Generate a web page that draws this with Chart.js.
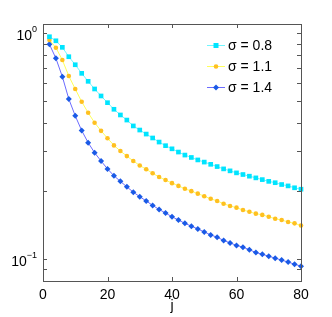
<!DOCTYPE html>
<html>
<head>
<meta charset="utf-8">
<script src="https://cdn.jsdelivr.net/npm/chart.js@4/dist/chart.umd.min.js"></script>
<style>
  html, body { margin: 0; padding: 0; background: #fff; }
  #wrap { width: 332px; height: 317px; }
</style>
</head>
<body>
<div id="wrap"><canvas id="chart" width="332" height="317"></canvas></div>
<script>
// j values (every 2nd step)
const jValues = [2, 4, 6, 8, 10, 12, 14, 16, 18, 20, 22, 24, 26, 28, 30, 32, 34, 36, 38, 40,
    42, 44, 46, 48, 50, 52, 54, 56, 58, 60, 62, 64, 66, 68, 70, 72, 74, 76, 78, 80];

const sigma08 = [0.966, 0.927, 0.867, 0.788, 0.726, 0.665, 0.613, 0.567, 0.528, 0.493,
    0.461, 0.435, 0.413, 0.389, 0.373, 0.358, 0.344, 0.330, 0.318, 0.308,
    0.298, 0.289, 0.282, 0.275, 0.269, 0.263, 0.257, 0.251, 0.246, 0.241,
    0.237, 0.233, 0.229, 0.225, 0.221, 0.218, 0.214, 0.211, 0.207, 0.204];
const sigma11 = [0.934, 0.864, 0.762, 0.647, 0.567, 0.498, 0.445, 0.402, 0.370, 0.343,
    0.319, 0.301, 0.286, 0.272, 0.260, 0.250, 0.240, 0.231, 0.224, 0.217,
    0.211, 0.205, 0.200, 0.195, 0.190, 0.185, 0.181, 0.176, 0.172, 0.169,
    0.165, 0.162, 0.159, 0.157, 0.154, 0.151, 0.149, 0.146, 0.144, 0.141];
const sigma14 = [0.894, 0.775, 0.643, 0.512, 0.431, 0.371, 0.328, 0.296, 0.272, 0.251,
    0.234, 0.221, 0.209, 0.198, 0.189, 0.181, 0.173, 0.166, 0.160, 0.154,
    0.149, 0.144, 0.140, 0.136, 0.132, 0.128, 0.125, 0.121, 0.118, 0.115,
    0.113, 0.110, 0.107, 0.105, 0.103, 0.101, 0.099, 0.097, 0.095, 0.093];

const seriesLabels = ['\u03c3 = 0.8', '\u03c3 = 1.1', '\u03c3 = 1.4'];
const xTicks = [0, 20, 40, 60, 80];
const yMajorTicks = [0.1, 1];
const yMinorTicks = [0.09, 0.2, 0.3, 0.4, 0.5, 0.6, 0.7, 0.8, 0.9];

const FONT = '"Liberation Sans", Arial, sans-serif';

function toPoints(vals) {
    return vals.map((v, i) => ({ x: jValues[i], y: v }));
}

// frame, inward ticks, 10^n labels and the legend inside the axes
const matlabAxes = {
    id: 'matlabAxes',
    afterDraw(chart) {
        const ctx = chart.ctx;
        const a = chart.chartArea;
        const xs = chart.scales.x, ys = chart.scales.y;
        ctx.save();
        ctx.strokeStyle = '#555';
        ctx.lineWidth = 1;
        ctx.strokeRect(Math.round(a.left) + 0.5, Math.round(a.top) + 0.5,
            Math.round(a.right - a.left), Math.round(a.bottom - a.top));

        ctx.beginPath();
        xTicks.forEach(t => {
            const px = Math.round(xs.getPixelForValue(t)) + 0.5;
            ctx.moveTo(px, a.bottom); ctx.lineTo(px, a.bottom - 4);
            ctx.moveTo(px, a.top); ctx.lineTo(px, a.top + 4);
        });
        yMajorTicks.concat(yMinorTicks).forEach(t => {
            const py = Math.round(ys.getPixelForValue(t)) + 0.5;
            ctx.moveTo(a.left, py); ctx.lineTo(a.left + 4, py);
            ctx.moveTo(a.right, py); ctx.lineTo(a.right - 4, py);
        });
        ctx.stroke();

        // y labels as 10^n
        ctx.fillStyle = '#000';
        yMajorTicks.forEach(t => {
            const py = ys.getPixelForValue(t);
            const exp = String(Math.round(Math.log10(t))).replace('-', '\u2212');
            ctx.font = '9px ' + FONT;
            const ew = ctx.measureText(exp).width;
            const right = a.left - 6;
            ctx.textBaseline = 'alphabetic';
            ctx.textAlign = 'right';
            ctx.fillText(exp, right, py - 1);
            ctx.font = '14px ' + FONT;
            ctx.fillText('10', right - ew, py + 7);
        });

        // legend
        const lx = 207, ly = 45, step = 21;
        chart.data.datasets.forEach((ds, i) => {
            const y = ly + i * step;
            ctx.strokeStyle = ds.borderColor;
            ctx.lineWidth = 1;
            ctx.beginPath();
            ctx.moveTo(lx, y + 0.5); ctx.lineTo(lx + 18, y + 0.5);
            ctx.stroke();
            ctx.fillStyle = ds.pointBackgroundColor;
            ctx.beginPath();
            if (ds.pointStyle === 'rect') {
                ctx.rect(lx + 9 - 2.5, y - 2, 5, 5);
            } else if (ds.pointStyle === 'rectRot') {
                ctx.moveTo(lx + 9, y - 2.5); ctx.lineTo(lx + 12, y + 0.5);
                ctx.lineTo(lx + 9, y + 3.5); ctx.lineTo(lx + 6, y + 0.5);
                ctx.closePath();
            } else {
                ctx.arc(lx + 9, y + 0.5, 2.3, 0, Math.PI * 2);
            }
            ctx.fill();
            ctx.fillStyle = '#000';
            ctx.font = '14px ' + FONT;
            ctx.textAlign = 'left';
            ctx.textBaseline = 'middle';
            ctx.fillText(ds.label, lx + 21, y + 1);
        });
        ctx.restore();
    }
};

const ctx = document.getElementById('chart').getContext('2d');
new Chart(ctx, {
    type: 'line',
    data: {
        datasets: [{
            label: seriesLabels[0],
            data: toPoints(sigma08),
            borderColor: '#6ff6ff',
            borderWidth: 1,
            pointStyle: 'rect',
            pointRadius: 3.3,
            pointBackgroundColor: '#00e4ff',
            pointBorderWidth: 0,
            clip: 6
        }, {
            label: seriesLabels[1],
            data: toPoints(sigma11),
            borderColor: '#ffff5a',
            borderWidth: 1,
            pointStyle: 'circle',
            pointRadius: 2.3,
            pointBackgroundColor: '#ffc020',
            pointBorderWidth: 0,
            clip: 6
        }, {
            label: seriesLabels[2],
            data: toPoints(sigma14),
            borderColor: '#6b6bff',
            borderWidth: 1,
            pointStyle: 'rectRot',
            pointRadius: 3.0,
            pointBackgroundColor: '#1a5ae6',
            pointBorderWidth: 0,
            clip: 6
        }]
    },
    options: {
        responsive: false,
        animation: false,
        devicePixelRatio: 1,
        layout: { padding: { top: 24, right: 31, left: 0, bottom: 0 } },
        plugins: {
            legend: { display: false },
            tooltip: { enabled: false }
        },
        scales: {
            x: {
                type: 'linear',
                min: 0,
                max: 80,
                grid: { display: false, drawTicks: false },
                border: { display: false },
                ticks: {
                    stepSize: 20,
                    padding: 6,
                    color: '#000',
                    font: { family: FONT, size: 14 }
                },
                title: {
                    display: true,
                    text: 'j',
                    color: '#000',
                    padding: { top: 0, bottom: 2 },
                    font: { family: FONT, size: 14 }
                },
                afterFit(scale) { scale.height = 36; }
            },
            y: {
                type: 'logarithmic',
                min: 0.08,
                max: 1.1,
                grid: { display: false, drawTicks: false },
                border: { display: false },
                ticks: { display: false },
                afterFit(scale) { scale.width = 43; }
            }
        }
    },
    plugins: [matlabAxes]
});
</script>
</body>
</html>
